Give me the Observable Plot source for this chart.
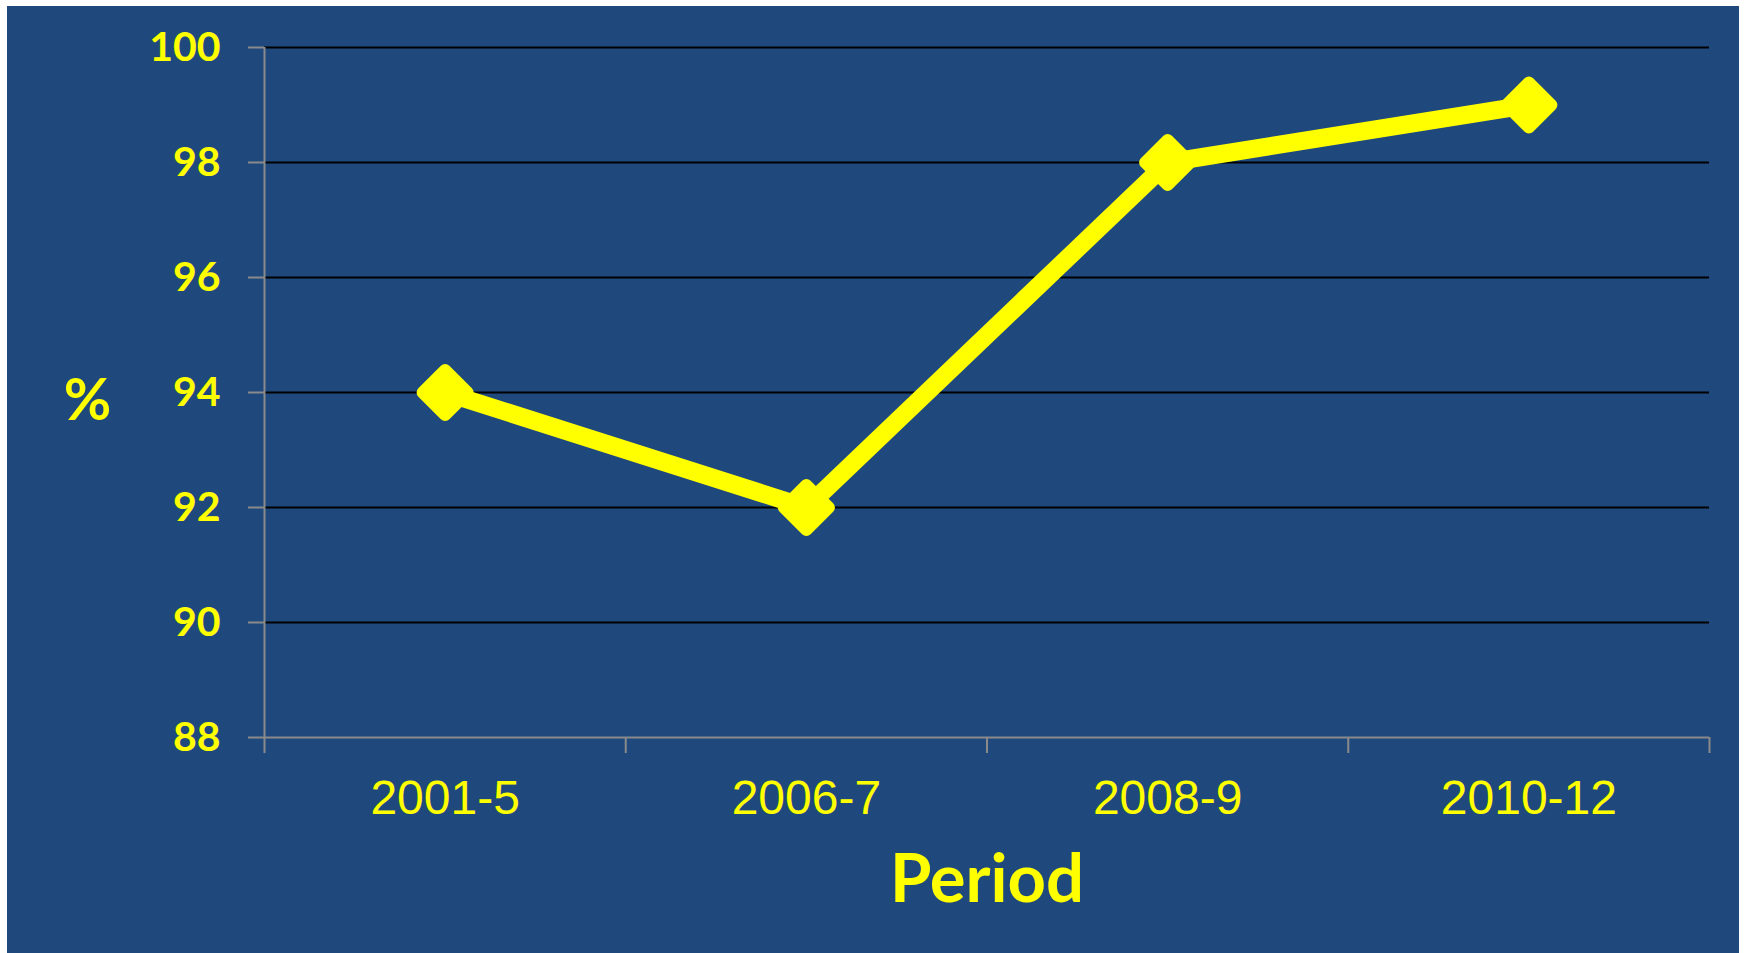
<!DOCTYPE html>
<html>
<head>
<meta charset="utf-8">
<script src="https://cdn.jsdelivr.net/npm/d3@7"></script>
<script src="https://cdn.jsdelivr.net/npm/@observablehq/plot@0.6"></script>
<style>
  html, body { margin: 0; padding: 0; background: #ffffff; }
  #chart { position: absolute; left: 7px; top: 6px; width: 1732px; height: 947px; background: #1F497D; overflow: hidden; }
  #chart svg { display: block; background: transparent; }
</style>
</head>
<body>
<div id="chart"></div>
<script>
const periods = ["2001-5", "2006-7", "2008-9", "2010-12"];
const values = [94, 92, 98, 99];
const yTicks = [88, 90, 92, 94, 96, 98, 100];
const gridTicks = [90, 92, 94, 96, 98, 100];
const xLabel = "Period";
const yLabel = "%";

const data = periods.map((p, i) => ({i, period: p, value: values[i]}));
const idx = periods.map((p, i) => i);
const bounds = [-0.5, ...idx.map(i => i + 0.5)];

const yellow = "#FFFF00";
const gray = "#8a8a8a";

const chart = Plot.plot({
  width: 1732,
  height: 947,
  marginLeft: 257,
  marginRight: 30,
  marginTop: 41,
  marginBottom: 216,
  style: {background: "transparent"},
  x: {type: "linear", domain: [-0.5, periods.length - 0.5]},
  y: {domain: [88, 100]},
  marks: [
    Plot.gridY(gridTicks, {stroke: "#000", strokeOpacity: 1, strokeWidth: 2}),
    Plot.ruleY([88], {stroke: gray, strokeWidth: 2}),
    Plot.ruleX([-0.5], {stroke: gray, strokeWidth: 2}),
    Plot.axisY({
      ticks: yTicks, tickSize: 16, tickPadding: 28, stroke: gray, strokeWidth: 2,
      fill: yellow, fontSize: 41, fontWeight: "bold", fontFamily: "Lato",
      label: null
    }),
    Plot.axisX({
      ticks: bounds, tickSize: 16, tickFormat: () => "", stroke: gray, strokeWidth: 2, label: null
    }),
    Plot.axisX({
      ticks: idx, tickSize: 0, tickPadding: 42, tickFormat: i => periods[i],
      fill: yellow, fontSize: 48, fontFamily: "Liberation Sans", label: null
    }),
    Plot.line(data, {x: "i", y: "value", stroke: yellow, strokeWidth: 18, strokeLinejoin: "round"}),
    Plot.dot(data, {x: "i", y: "value", symbol: "diamond2", r: 20.3, fill: yellow, stroke: yellow, strokeWidth: 12, strokeLinejoin: "round"}),
    Plot.text([xLabel], {text: d => d, frameAnchor: "bottom", dy: 164, fill: yellow, fontSize: 67, fontWeight: "bold", fontFamily: "Lato"}),
    Plot.text([yLabel], {text: d => d, frameAnchor: "left", textAnchor: "middle", dx: -177, dy: 9, fill: yellow, fontSize: 58, fontWeight: "bold", fontFamily: "Lato"})
  ]
});
document.getElementById("chart").appendChild(chart);
</script>
</body>
</html>
